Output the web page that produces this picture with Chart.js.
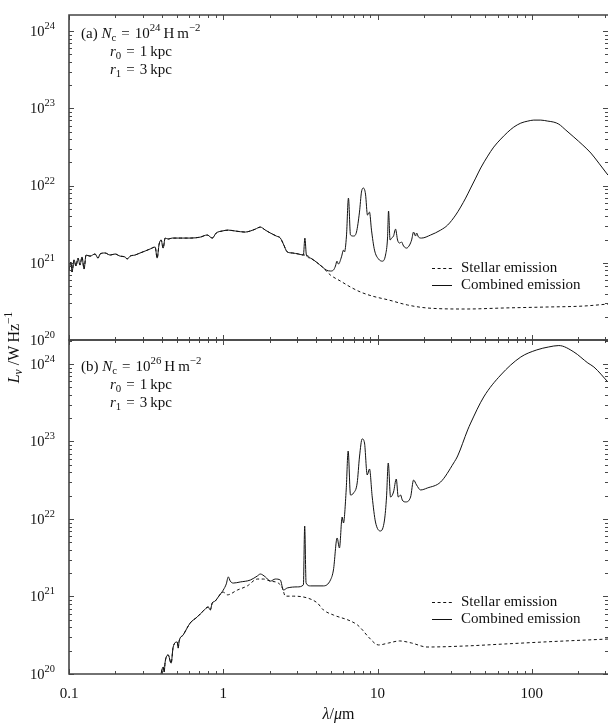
<!DOCTYPE html>
<html>
<head>
<meta charset="utf-8">
<script src="https://cdn.jsdelivr.net/npm/chart.js@4.4.0/dist/chart.umd.min.js"></script>
<style>
  html, body { margin: 0; padding: 0; background: #fff; }
</style>
</head>
<body>
<canvas id="sed" width="608" height="728"></canvas>
<script>
// Wavelength in micron, luminosity density L_nu in W/Hz.
// Panel (a): N_c = 1e24 H/m^2, panel (b): N_c = 1e26 H/m^2.
const waveCombA = [0.100, 0.103, 0.1046, 0.1078, 0.111, 0.1144, 0.1179, 0.1214, 0.1252, 0.129,
  0.1369, 0.1475, 0.1543, 0.159, 0.1713, 0.1846, 0.199, 0.2144, 0.231, 0.238,
  0.249, 0.268, 0.289, 0.3115, 0.3357, 0.3618, 0.3727, 0.384, 0.3957, 0.4077,
  0.42, 0.4395, 0.4665, 0.526, 0.6105, 0.7087, 0.787, 0.8485, 0.9006, 0.985,
  1.078, 1.196, 1.39, 1.497, 1.614, 1.739, 1.874, 2.02, 2.209, 2.345,
  2.453, 2.604, 2.806, 3.069, 3.307, 3.382, 3.459, 3.672, 4.017, 4.395,
  4.665, 4.953, 5.18, 5.338, 5.458, 5.582, 5.838, 6.015, 6.105, 6.29,
  6.48, 6.68, 6.987, 7.305, 7.64, 7.87, 8.11, 8.36, 8.61, 8.87,
  9.14, 9.56, 10.15, 10.78, 11.27, 11.61, 11.79, 12.06, 12.33, 12.70,
  13.09, 13.49, 13.90, 14.31, 14.75, 15.43, 16.14, 16.63, 17.13, 17.65,
  17.91, 18.46, 19.31, 22.09, 25.65, 28.48, 32.10, 34.59, 37.27, 40.17,
  43.29, 46.65, 51.81, 56.66, 62.92, 69.89, 76.41, 84.84, 94.2, 103.0,
  114.4, 127.0, 138.9, 149.7, 166.3, 187.4, 214.4, 241.6, 272.3, 311.6];
const lumCombA = [8.05e20, 1.02e21, 7.59e20, 1.09e21, 9.08e20, 1.15e21, 9.35e20, 1.19e21, 8.30e20, 1.26e21,
  1.22e21, 1.30e21, 1.15e21, 1.30e21, 1.34e21, 1.26e21, 1.30e21, 1.22e21, 1.19e21, 1.12e21,
  1.22e21, 1.26e21, 1.34e21, 1.42e21, 1.51e21, 1.60e21, 1.15e21, 1.75e21, 1.97e21, 1.55e21,
  2.09e21, 2.03e21, 2.09e21, 2.09e21, 2.09e21, 2.15e21, 2.29e21, 2.09e21, 2.43e21, 2.58e21,
  2.65e21, 2.58e21, 2.50e21, 2.58e21, 2.73e21, 2.90e21, 2.65e21, 2.43e21, 2.22e21, 2.09e21,
  1.75e21, 1.38e21, 1.34e21, 1.30e21, 1.26e21, 2.09e21, 1.26e21, 1.15e21, 1.02e21, 8.81e20,
  8.05e20, 7.82e20, 8.05e20, 9.08e20, 1.05e21, 9.63e20, 1.19e21, 1.46e21, 1.38e21, 2.22e21,
  6.89e21, 2.29e21, 2.22e21, 2.50e21, 4.54e21, 8.24e21, 9.29e21, 7.76e21, 4.15e21, 4.54e21,
  2.65e21, 1.46e21, 1.12e21, 1.05e21, 1.26e21, 2.09e21, 4.68e21, 1.97e21, 2.09e21, 2.22e21,
  2.73e21, 1.97e21, 1.80e21, 1.86e21, 1.65e21, 1.55e21, 1.70e21, 1.97e21, 2.50e21, 2.22e21,
  2.43e21, 2.15e21, 2.09e21, 2.29e21, 2.65e21, 3.08e21, 4.15e21, 5.27e21, 6.89e21, 9.29e21,
  1.25e22, 1.69e22, 2.41e22, 3.15e22, 4.00e22, 4.93e22, 5.72e22, 6.44e22, 6.84e22, 7.05e22,
  7.05e22, 6.84e22, 6.64e22, 6.25e22, 5.23e22, 4.25e22, 3.34e22, 2.64e22, 1.95e22, 1.37e22];

const waveStarA = [0.100, 0.103, 0.1046, 0.1078, 0.111, 0.1144, 0.1179, 0.1214, 0.1252, 0.129,
  0.1369, 0.1475, 0.1543, 0.159, 0.1713, 0.1846, 0.199, 0.2144, 0.231, 0.238,
  0.249, 0.268, 0.289, 0.3115, 0.3357, 0.3618, 0.3727, 0.384, 0.3957, 0.4077,
  0.42, 0.4395, 0.4665, 0.526, 0.6105, 0.7087, 0.787, 0.8485, 0.9006, 0.985,
  1.078, 1.196, 1.39, 1.497, 1.614, 1.739, 1.874, 2.02, 2.209, 2.345,
  2.453, 2.604, 2.806, 3.069, 3.307, 3.459, 3.672, 4.017, 4.395, 4.953,
  5.75, 6.68, 7.76, 9.28, 11.79, 15.66, 20.96, 37.27, 66.8, 119.7,
  214.4, 311.6];
const lumStarA = [8.05e20, 1.02e21, 7.59e20, 1.09e21, 9.08e20, 1.15e21, 9.35e20, 1.19e21, 8.30e20, 1.26e21,
  1.22e21, 1.30e21, 1.15e21, 1.30e21, 1.34e21, 1.26e21, 1.30e21, 1.22e21, 1.19e21, 1.12e21,
  1.22e21, 1.26e21, 1.34e21, 1.42e21, 1.51e21, 1.60e21, 1.15e21, 1.75e21, 1.97e21, 1.55e21,
  2.09e21, 2.03e21, 2.09e21, 2.09e21, 2.09e21, 2.15e21, 2.29e21, 2.09e21, 2.43e21, 2.58e21,
  2.65e21, 2.58e21, 2.50e21, 2.58e21, 2.73e21, 2.90e21, 2.65e21, 2.43e21, 2.22e21, 2.09e21,
  1.75e21, 1.38e21, 1.34e21, 1.30e21, 1.26e21, 1.26e21, 1.15e21, 1.02e21, 8.81e20, 6.94e20,
  5.80e20, 4.85e20, 4.18e20, 3.70e20, 3.30e20, 2.84e20, 2.60e20, 2.52e20, 2.60e20, 2.67e20,
  2.75e20, 2.92e20];

const waveCombB = [0.390, 0.4077, 0.414, 0.42, 0.4395, 0.4594, 0.4734, 0.5026, 0.5102, 0.5179,
  0.5498, 0.6105, 0.678, 0.7418, 0.799, 0.8233, 0.8485, 0.8873, 0.928, 0.9705,
  1.0, 1.046, 1.078, 1.11, 1.161, 1.289, 1.497, 1.663, 1.739, 1.874,
  2.02, 2.176, 2.345, 2.453, 2.604, 3.024, 3.307, 3.372, 3.443, 3.672,
  4.461, 4.953, 5.18, 5.473, 5.665, 5.899, 6.015, 6.265, 6.452, 6.68,
  6.987, 7.382, 7.64, 7.954, 8.235, 8.575, 8.872, 9.24, 9.70, 10.46,
  11.10, 11.44, 11.74, 12.15, 12.70, 13.23, 13.63, 14.11, 14.47, 15.20,
  16.38, 17.13, 17.91, 19.02, 21.02, 25.65, 31.16, 33.07, 38.41, 40.17,
  48.79, 62.92, 84.84, 107.8, 128.9, 149.7, 187.4, 231.0, 252.7, 311.6];
const lumCombB = [8.9e19, 1.23e20, 1.06e20, 1.43e20, 1.76e20, 1.38e20, 2.23e20, 2.59e20, 2.16e20, 2.67e20,
  3.19e20, 4.55e20, 5.44e20, 6.50e20, 7.32e20, 6.70e20, 8.24e20, 8.75e20, 9.86e20, 1.11e21,
  1.21e21, 1.45e21, 1.79e21, 1.58e21, 1.49e21, 1.54e21, 1.63e21, 1.84e21, 1.95e21, 1.79e21,
  1.58e21, 1.68e21, 1.63e21, 1.21e21, 1.29e21, 1.33e21, 1.41e21, 8.12e21, 1.49e21, 1.37e21,
  1.37e21, 1.63e21, 2.20e21, 5.69e21, 4.23e21, 1.06e22, 8.88e21, 2.37e22, 7.54e22, 2.04e22,
  2.16e22, 2.92e22, 6.31e22, 1.08e23, 9.57e22, 3.70e22, 4.42e22, 1.92e22, 9.15e21, 7.00e21,
  9.71e21, 1.92e22, 5.28e22, 1.92e22, 2.23e22, 3.28e22, 1.92e22, 2.04e22, 1.76e22, 1.66e22,
  1.92e22, 3.18e22, 2.75e22, 2.37e22, 2.51e22, 3.00e22, 5.28e22, 6.50e22, 1.41e23, 1.73e23,
  3.75e23, 7.21e23, 1.23e24, 1.52e24, 1.66e24, 1.73e24, 1.43e24, 1.03e24, 9.15e23, 5.86e23];

const waveStarB = [0.390, 0.4077, 0.414, 0.42, 0.4395, 0.4594, 0.4734, 0.5026, 0.5102, 0.5179,
  0.5498, 0.6105, 0.678, 0.7418, 0.799, 0.8233, 0.8485, 0.8873, 0.928, 0.9705,
  1.0, 1.062, 1.233, 1.432, 1.663, 1.819, 2.02, 2.275, 2.416, 2.527,
  2.848, 3.511, 4.077, 4.461, 5.18, 6.68, 7.415, 7.99, 8.74, 10.15,
  11.79, 13.90, 16.63, 20.96, 37.27, 66.8, 119.7, 316.0];
const lumStarB = [8.9e19, 1.23e20, 1.06e20, 1.43e20, 1.76e20, 1.38e20, 2.23e20, 2.59e20, 2.16e20, 2.67e20,
  3.19e20, 4.55e20, 5.44e20, 6.50e20, 7.32e20, 6.70e20, 8.24e20, 8.75e20, 9.86e20, 1.11e21,
  1.14e21, 1.05e21, 1.21e21, 1.37e21, 1.68e21, 1.68e21, 1.58e21, 1.49e21, 1.29e21, 1.01e21,
  1.01e21, 9.57e20, 8.24e20, 6.70e20, 5.77e20, 4.83e20, 4.29e20, 3.70e20, 3.00e20, 2.37e20,
  2.51e20, 2.67e20, 2.51e20, 2.23e20, 2.30e20, 2.44e20, 2.59e20, 2.83e20];

const xTickValues = [0.1, 1, 10, 100];
const xTickLabels = ['0.1', '1', '10', '100'];
const yTickExponents = [20, 21, 22, 23, 24];
const seriesLabels = ['Stellar emission', 'Combined emission'];
const panelTags = ['(a)', '(b)'];
const columnExponents = ['24', '26'];
const innerRadius = '1';
const outerRadius = '3';

const SERIF = '"Liberation Serif", "DejaVu Serif", serif';
const INK = '#111';
const EQ = '\u2004=\u2004';

const toPoints = (xs, ys) => xs.map((x, i) => ({ x: x, y: ys[i] }));

const stellarStyle = { borderColor: INK, borderWidth: 1, borderDash: [3, 2.6], pointRadius: 0, cubicInterpolationMode: 'monotone', fill: false };
const combinedStyle = { borderColor: INK, borderWidth: 1, pointRadius: 0, cubicInterpolationMode: 'monotone', fill: false };

// draws a run of text pieces: {t, it, sub, sup}
function rich(ctx, parts, x, y, size, measureOnly) {
  let cx = x;
  for (const p of parts) {
    const small = p.sub || p.sup;
    const s = small ? size * 0.72 : size;
    ctx.font = (p.it ? 'italic ' : '') + s.toFixed(1) + 'px ' + SERIF;
    const dy = p.sup ? -size * 0.4 : (p.sub ? size * 0.25 : 0);
    if (!measureOnly) ctx.fillText(p.t, cx, y + dy);
    cx += ctx.measureText(p.t).width;
  }
  return cx - x;
}

function decadeTicks(min, max) {
  const out = [];
  for (let e = Math.floor(Math.log10(min)); e <= Math.ceil(Math.log10(max)); e++) {
    for (let m = 1; m <= 9; m++) {
      const v = m * Math.pow(10, e);
      if (v >= min * 0.999 && v <= max * 1.001) out.push({ v: v, major: m === 1 });
    }
  }
  return out;
}

const panelFrame = {
  id: 'panelFrame',
  afterDraw(chart) {
    const { ctx, chartArea, scales } = chart;
    const xs = scales.x;
    const left = chartArea.left, right = chartArea.right;
    const xt = decadeTicks(xs.min, xs.max);
    ctx.save();
    ctx.textBaseline = 'middle';
    ctx.fillStyle = INK;

    [['yA', 0], ['yB', 1]].forEach(([id, k]) => {
      const ys = scales[id];
      const top = ys.top, bottom = ys.bottom;
      const yt = decadeTicks(ys.min, ys.max);

      // inward tick marks on all four sides
      ctx.strokeStyle = '#333';
      ctx.lineWidth = 0.9;
      ctx.setLineDash([]);
      ctx.beginPath();
      xt.forEach(t => {
        const px = Math.round(xs.getPixelForValue(t.v)) + 0.5;
        const len = t.major ? 5 : 3;
        ctx.moveTo(px, top); ctx.lineTo(px, top + len);
        ctx.moveTo(px, bottom); ctx.lineTo(px, bottom - len);
      });
      yt.forEach(t => {
        const py = Math.round(ys.getPixelForValue(t.v)) + 0.5;
        const len = t.major ? 5 : 3;
        ctx.moveTo(left, py); ctx.lineTo(left + len, py);
        ctx.moveTo(right, py); ctx.lineTo(right - len, py);
      });
      ctx.stroke();

      // frame: the right edge sits just past the canvas, only its ticks show
      ctx.strokeStyle = '#444';
      ctx.lineWidth = 1.6;
      ctx.beginPath();
      ctx.moveTo(right + 1, top); ctx.lineTo(left, top);
      ctx.lineTo(left, bottom); ctx.lineTo(right + 1, bottom);
      ctx.stroke();

      // y tick labels 10^n
      yTickExponents.forEach(e => {
        const py = ys.getPixelForValue(Math.pow(10, e));
        const parts = [{ t: '10' }, { t: String(e), sup: true }];
        const w = rich(ctx, parts, 0, 0, 14.5, true);
        rich(ctx, parts, left - 14 - w, py + 1, 14.5);
      });

      // panel annotation
      const y24 = ys.getPixelForValue(1e24);
      rich(ctx, [{ t: panelTags[k] + ' ' }, { t: 'N', it: true }, { t: 'c', sub: true }, { t: EQ + '10' },
        { t: columnExponents[k], sup: true }, { t: '\u2009H\u2009m' }, { t: '\u22122', sup: true }], 81, y24 + 3, 15);
      rich(ctx, [{ t: 'r', it: true }, { t: '0', sub: true }, { t: EQ + innerRadius + '\u2009kpc' }], 110, y24 + 21, 15);
      rich(ctx, [{ t: 'r', it: true }, { t: '1', sub: true }, { t: EQ + outerRadius + '\u2009kpc' }], 110, y24 + 39, 15);

      // legend
      const sets = chart.data.datasets.filter(d => d.yAxisID === id);
      sets.forEach((d, i) => {
        const ly = Math.round(bottom - 72 + i * 17) + 0.5;
        ctx.strokeStyle = d.borderColor;
        ctx.lineWidth = 1;
        ctx.setLineDash(d.borderDash || []);
        ctx.beginPath();
        ctx.moveTo(432, ly); ctx.lineTo(452, ly);
        ctx.stroke();
        ctx.setLineDash([]);
        rich(ctx, [{ t: d.label }], 461, ly, 15);
      });
    });

    // x tick labels
    ctx.textAlign = 'center';
    ctx.font = '15px ' + SERIF;
    xTickValues.forEach((v, i) => {
      ctx.fillText(xTickLabels[i], xs.getPixelForValue(v), chartArea.bottom + 20);
    });
    ctx.textAlign = 'left';

    // axis titles
    const xParts = [{ t: '\u03bb', it: true }, { t: '/' }, { t: '\u03bc', it: true }, { t: 'm' }];
    const xw = rich(ctx, xParts, 0, 0, 16, true);
    rich(ctx, xParts, (left + right) / 2 - xw / 2, chartArea.bottom + 41, 16);

    const yParts = [{ t: 'L', it: true }, { t: '\u03bd', it: true, sub: true }, { t: ' /W\u2009Hz' }, { t: '\u22121', sup: true }];
    const yw = rich(ctx, yParts, 0, 0, 16, true);
    ctx.translate(15, (chartArea.top + chartArea.bottom) / 2 + 3);
    ctx.rotate(-Math.PI / 2);
    rich(ctx, yParts, -yw / 2, 0, 16);
    ctx.restore();
  }
};

new Chart(document.getElementById('sed'), {
  type: 'line',
  data: {
    datasets: [
      Object.assign({ label: seriesLabels[0], data: toPoints(waveStarA, lumStarA), yAxisID: 'yA' }, stellarStyle),
      Object.assign({ label: seriesLabels[1], data: toPoints(waveCombA, lumCombA), yAxisID: 'yA' }, combinedStyle),
      Object.assign({ label: seriesLabels[0], data: toPoints(waveStarB, lumStarB), yAxisID: 'yB' }, stellarStyle),
      Object.assign({ label: seriesLabels[1], data: toPoints(waveCombB, lumCombB), yAxisID: 'yB' }, combinedStyle)
    ]
  },
  options: {
    responsive: false,
    animation: false,
    devicePixelRatio: 1,
    layout: { padding: { left: 69, right: 0, top: 15, bottom: 54 } },
    plugins: { legend: { display: false }, tooltip: { enabled: false } },
    scales: {
      x: { type: 'logarithmic', min: 0.1, max: 312, display: false },
      yB: { type: 'logarithmic', min: 1e20, max: 2.04e24, display: false, position: 'left', stack: 'panels', stackWeight: 334 },
      yA: { type: 'logarithmic', min: 1e20, max: 1.62e24, display: false, position: 'left', stack: 'panels', stackWeight: 325 }
    }
  },
  plugins: [panelFrame]
});
</script>
</body>
</html>
